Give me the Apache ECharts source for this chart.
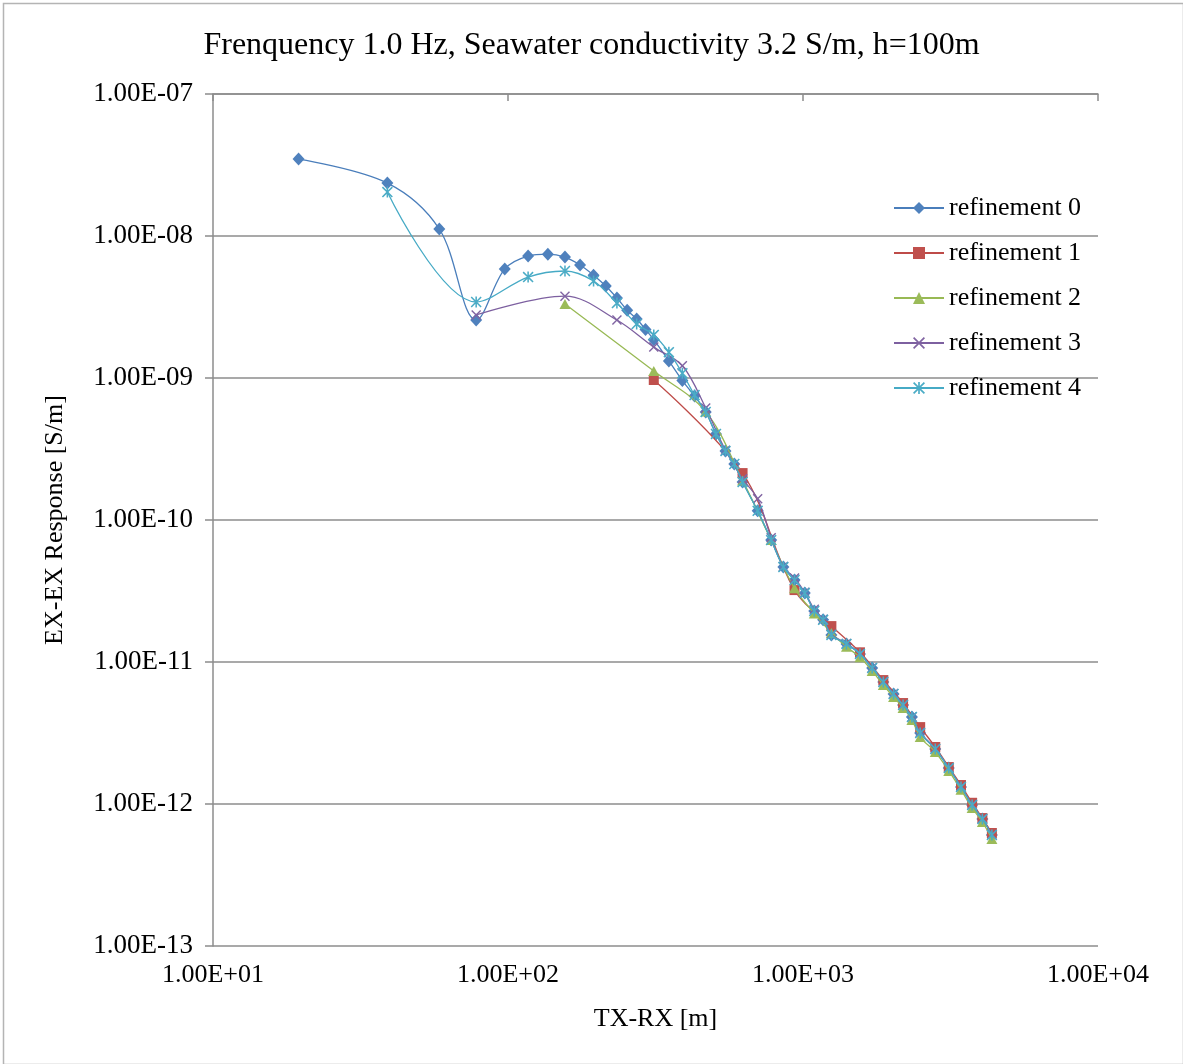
<!DOCTYPE html>
<html>
<head>
<meta charset="utf-8">
<script src="https://cdn.jsdelivr.net/npm/echarts@6/dist/echarts.min.js"></script>
<style>
html,body{margin:0;padding:0;background:#fff;}
#chart{width:1183px;height:1064px;}
</style>
</head>
<body>
<div id="chart"></div>
<script>
// ---------- data ----------
const seriesNames = ['refinement 0','refinement 1','refinement 2','refinement 3','refinement 4'];
const xTickLabels = ['1.00E+01','1.00E+02','1.00E+03','1.00E+04'];
const yTickLabels = ['1.00E-13','1.00E-12','1.00E-11','1.00E-10','1.00E-09','1.00E-08','1.00E-07'];

// refinement 0
const x0 = [19.5,39,58.5,78,97.5,117,136.5,156,175.5,195,214.5,234,253.5,273,292.5,312,351,390,429,468,507,546,585,624,702,780,858,936,1014,1092,1170,1248,1404,1560,1716,1872,2028,2184,2340,2496,2808,3120,3432,3744,4056,4368];
const y0 = [3.48e-8,2.36e-8,1.12e-8,2.56e-9,5.86e-9,7.23e-9,7.45e-9,7.1e-9,6.25e-9,5.3e-9,4.45e-9,3.66e-9,3.0e-9,2.6e-9,2.2e-9,1.86e-9,1.32e-9,9.6e-10,7.46e-10,5.76e-10,4.04e-10,3.06e-10,2.48e-10,1.85e-10,1.16e-10,7.22e-11,4.66e-11,3.78e-11,3.06e-11,2.29e-11,1.98e-11,1.55e-11,1.34e-11,1.14e-11,9.07e-12,7.23e-12,5.95e-12,4.98e-12,4.1e-12,3.16e-12,2.44e-12,1.79e-12,1.32e-12,9.84e-13,7.84e-13,6.05e-13];

// refinement 1
const x1 = [312,624,936,1248,1560,1872,2184,2496,2808,3120,3432,3744,4056,4368];
const y1 = [9.68e-10,2.14e-10,3.21e-11,1.79e-11,1.17e-11,7.46e-12,5.14e-12,3.48e-12,2.52e-12,1.82e-12,1.36e-12,1.02e-12,7.96e-13,6.25e-13];

// refinement 2
const x2 = [156,312,468,624,780,936,1092,1248,1404,1560,1716,1872,2028,2184,2340,2496,2808,3120,3432,3744,4056,4368];
const y2 = [3.32e-9,1.12e-9,5.8e-10,1.9e-10,7.22e-11,3.3e-11,2.2e-11,1.6e-11,1.28e-11,1.08e-11,8.65e-12,6.89e-12,5.67e-12,4.75e-12,3.91e-12,2.96e-12,2.32e-12,1.71e-12,1.26e-12,9.37e-13,7.47e-13,5.68e-13];

// refinement 3
const x3 = [78,156,234,312,390,468,546,624,702,780,858,936,1014,1092,1170,1248,1404,1560,1716,1872,2028,2184,2340,2496,2808,3120,3432,3744,4056,4368];
const y3 = [2.78e-9,3.77e-9,2.56e-9,1.65e-9,1.22e-9,6.15e-10,3.1e-10,1.95e-10,1.41e-10,7.5e-11,4.7e-11,3.9e-11,3.1e-11,2.35e-11,2.0e-11,1.57e-11,1.35e-11,1.15e-11,9.1e-12,7.3e-12,6.0e-12,5.0e-12,4.1e-12,3.2e-12,2.45e-12,1.8e-12,1.33e-12,9.9e-13,7.9e-13,6.1e-13];

// refinement 4
const x4 = [39,78,117,156,195,234,273,312,351,390,429,468,507,546,585,624,702,780,858,936,1014,1092,1170,1248,1404,1560,1716,1872,2028,2184,2340,2496,2808,3120,3432,3744,4056,4368];
const y4 = [2.04e-8,3.43e-9,5.14e-9,5.67e-9,4.82e-9,3.37e-9,2.4e-9,2.01e-9,1.52e-9,1.08e-9,7.58e-10,5.76e-10,4.04e-10,3.06e-10,2.48e-10,1.85e-10,1.16e-10,7.22e-11,4.66e-11,3.78e-11,3.06e-11,2.29e-11,1.98e-11,1.55e-11,1.34e-11,1.14e-11,9.07e-12,7.23e-12,5.95e-12,4.98e-12,4.1e-12,3.16e-12,2.44e-12,1.79e-12,1.32e-12,9.84e-13,7.84e-13,6.05e-13];

// ---------- chart ----------
const xs = [x0,x1,x2,x3,x4];
const ys = [y0,y1,y2,y3,y4];
const lineColors = ['#4A7EBB','#BE4B48','#98B954','#7D60A0','#46AAC5'];
const markColors = ['#4F81BD','#C0504D','#9BBB59','#8064A2','#4BACC6'];
const xSym = 'path://M0,1 L1,0 L5,4 L9,0 L10,1 L6,5 L10,9 L9,10 L5,6 L1,10 L0,9 L4,5 Z';
const starSym = 'path://M0,1 L1,0 L5,4 L9,0 L10,1 L6,5 L10,9 L9,10 L5,6 L1,10 L0,9 L4,5 Z M4.3,0 L5.7,0 L5.7,10 L4.3,10 Z';
const symbols = ['diamond','rect','triangle',xSym,starSym];
const symSizes = [[12,13],10,[11,10],10,11];
const FONT = '"Liberation Serif","Times New Roman",serif';

const series = seriesNames.map((name,i)=>({
  name: name,
  type: 'line',
  data: xs[i].map((x,j)=>[x, ys[i][j]]),
  smooth: 0.35,
  symbol: symbols[i],
  symbolSize: symSizes[i],
  showSymbol: true,
  lineStyle: {color: lineColors[i], width: 1.3},
  itemStyle: {color: markColors[i]},
  z: 2 + i
}));

const chart = echarts.init(document.getElementById('chart'), null, {renderer:'canvas'});
chart.setOption({
  animation: false,
  backgroundColor: '#fff',
  title: {
    text: 'Frenquency 1.0 Hz, Seawater conductivity 3.2 S/m, h=100m',
    left: 'center', top: 25,
    textStyle: {fontFamily: FONT, fontSize: 32, fontWeight: 'normal', color: '#000'}
  },
  legend: {
    orient: 'vertical',
    left: 888, top: 189,
    itemWidth: 50, itemHeight: 15,
    itemGap: 17,
    textStyle: {fontFamily: FONT, fontSize: 26, color: '#000', lineHeight: 28, padding:[0,0,0,0]},
    data: seriesNames
  },
  grid: {left: 213, right: 85, top: 94, bottom: 118, containLabel: false},
  xAxis: [{
    type: 'log', logBase: 10, min: 10, max: 10000, splitNumber: 3,
    position: 'bottom',
    name: 'TX-RX [m]', nameLocation: 'middle', nameGap: 60,
    nameTextStyle: {fontFamily: FONT, fontSize: 26, color: '#000'},
    axisLine: {show: false},
    axisTick: {show: false},
    splitLine: {show: false},
    axisLabel: {
      fontFamily: FONT, fontSize: 26, color: '#000', margin: 16,
      formatter: v => xTickLabels[Math.round(Math.log10(v)) - 1]
    }
  },{
    type: 'log', logBase: 10, min: 10, max: 10000, splitNumber: 3,
    position: 'top',
    axisLine: {show: true, lineStyle: {color: '#8c8c8c', width: 1.5}},
    axisTick: {show: true, inside: true, length: 7, lineStyle: {color: '#8c8c8c', width: 1.5}},
    axisLabel: {show: false},
    splitLine: {show: false}
  }],
  yAxis: {
    type: 'log', logBase: 10, min: 1e-13, max: 1e-7, splitNumber: 6,
    name: 'EX-EX Response [S/m]', nameLocation: 'middle', nameGap: 145,
    nameTextStyle: {fontFamily: FONT, fontSize: 26, color: '#000'},
    axisLine: {show: true, lineStyle: {color: '#8c8c8c', width: 1.5}},
    axisTick: {show: true, length: 8, lineStyle: {color: '#8c8c8c', width: 1.5}},
    splitLine: {show: true, lineStyle: {color: '#8c8c8c', width: 1.5}},
    axisLabel: {
      fontFamily: FONT, fontSize: 27, color: '#000', margin: 20,
      formatter: v => yTickLabels[Math.round(Math.log10(v)) + 13]
    }
  },
  graphic: [{
    type: 'rect', left: 1, top: 1, silent: true, z: -10,
    shape: {width: 1180, height: 1061},
    style: {fill: 'none', stroke: '#b4b4b4', lineWidth: 1.5}
  }],
  series: series
});
</script>
</body>
</html>
